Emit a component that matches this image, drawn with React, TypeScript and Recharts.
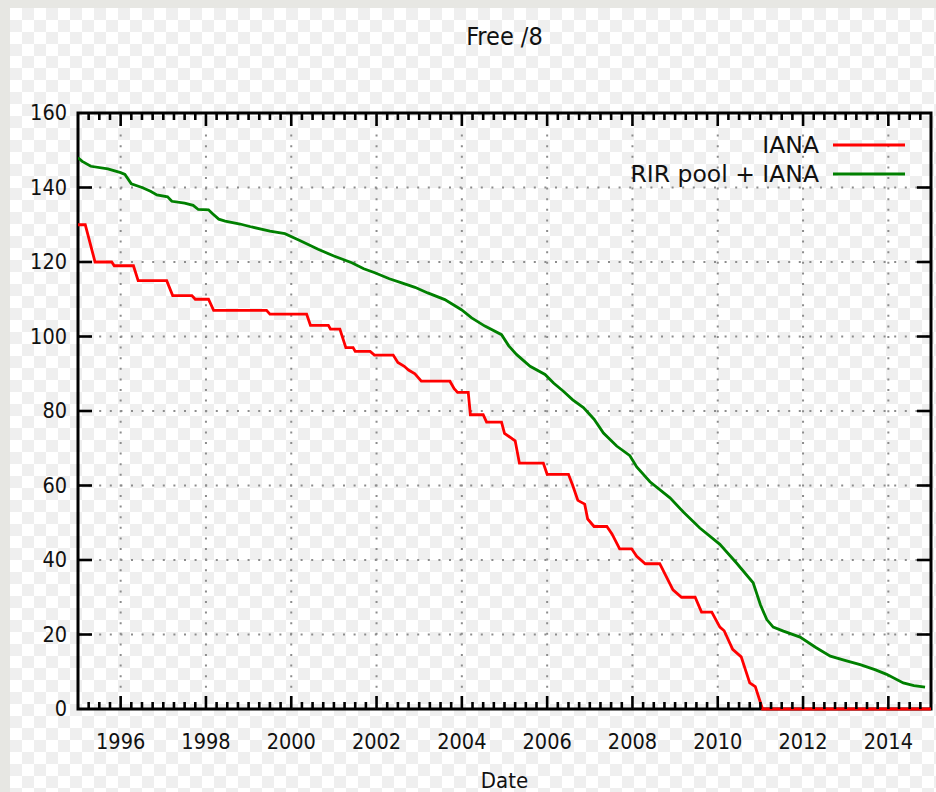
import React from 'react';
import {
  ComposedChart, Line, Scatter, XAxis, YAxis, CartesianGrid, ReferenceLine, ReferenceArea, Legend,
} from 'recharts';

// IANA free /8 blocks (step line)
const ianaYears = [
  1995.0, 1995.17, 1995.4, 1995.79, 1995.85, 1996.3, 1996.41, 1997.08, 1997.22, 1997.67,
  1997.75, 1998.06, 1998.18, 1999.42, 1999.5, 2000.36, 2000.45, 2000.87, 2000.92, 2001.14,
  2001.28, 2001.45, 2001.5, 2001.85, 2001.95, 2002.39, 2002.5, 2002.65, 2002.75, 2002.9,
  2003.05, 2003.72, 2003.82, 2003.9, 2004.15, 2004.2, 2004.5, 2004.58, 2004.93, 2005.0,
  2005.25, 2005.35, 2005.91, 2006.0, 2006.5, 2006.6, 2006.72, 2006.88, 2006.95, 2007.1,
  2007.4, 2007.52, 2007.7, 2007.98, 2008.1, 2008.3, 2008.64, 2008.95, 2009.15, 2009.47,
  2009.62, 2009.86, 2010.05, 2010.15, 2010.35, 2010.55, 2010.75, 2010.88, 2011.05, 2015.0,
];
const ianaFree = [
  130, 130, 120, 120, 119, 119, 115, 115, 111, 111,
  110, 110, 107, 107, 106, 106, 103, 103, 102, 102,
  97, 97, 96, 96, 95, 95, 93, 92, 91, 90,
  88, 88, 86, 85, 85, 79, 79, 77, 77, 74,
  72, 66, 66, 63, 63, 60, 56, 55, 51, 49,
  49, 47, 43, 43, 41, 39, 39, 32, 30, 30,
  26, 26, 22, 21, 16, 14, 7, 6, 0, 0,
];

// RIR pool + IANA
const rirYears = [
  1995.0, 1995.1, 1995.3, 1995.7, 1996.0, 1996.1, 1996.25, 1996.5, 1996.7, 1996.85,
  1997.1, 1997.2, 1997.5, 1997.7, 1997.82, 1998.06, 1998.15, 1998.3, 1998.45, 1998.8,
  1999.07, 1999.5, 1999.85, 2000.2, 2000.63, 2001.0, 2001.42, 2001.7, 2001.96, 2002.3,
  2002.59, 2002.9, 2003.2, 2003.6, 2003.99, 2004.23, 2004.54, 2004.93, 2005.1, 2005.28,
  2005.6, 2005.95, 2006.15, 2006.38, 2006.6, 2006.85, 2007.1, 2007.32, 2007.63, 2007.94,
  2008.1, 2008.41, 2008.88, 2009.2, 2009.58, 2010.05, 2010.44, 2010.83, 2011.0, 2011.15,
  2011.3, 2011.54, 2011.93, 2012.3, 2012.64, 2013.0, 2013.34, 2013.7, 2013.96, 2014.35,
  2014.6, 2014.86,
];
const rirFree = [
  148, 147, 145.7, 145, 144, 143.5, 141, 140, 139, 138,
  137.5, 136.3, 135.8, 135.2, 134.1, 134, 133, 131.5, 131, 130.2,
  129.4, 128.3, 127.6, 125.8, 123.4, 121.6, 119.8, 118.2, 117.1, 115.5,
  114.4, 113.2, 111.7, 109.9, 107.2, 105, 102.8, 100.5, 97.5, 95.2,
  92, 89.8, 87.5, 85.3, 83, 80.9, 77.8, 74.1, 70.6, 68,
  65, 61, 56.7, 52.8, 48.6, 44.2, 39.2, 33.9, 28, 24,
  22, 20.9, 19.3, 16.5, 14.2, 13, 11.9, 10.5, 9.3, 7,
  6.3, 5.9,
];

const yearTicks = [1996, 1998, 2000, 2002, 2004, 2006, 2008, 2010, 2012, 2014];
const minorYearTicks = Array.from({ length: 79 }, (_, i) => 1995.25 + i * 0.25).filter(
  (v) => !yearTicks.includes(v)
);
const valueTicks = [0, 20, 40, 60, 80, 100, 120, 140, 160];
const innerValueTicks = [20, 40, 60, 80, 100, 120, 140];

const X_MIN = 1995;
const X_MAX = 2015;
const Y_MIN = 0;
const Y_MAX = 160;

const ianaData = ianaYears.map((year, i) => ({ year, free: ianaFree[i] }));
const rirData = rirYears.map((year, i) => ({ year, free: rirFree[i] }));

// tick mark anchor points on the frame
const bottomMajor = yearTicks.map((year) => ({ year, free: Y_MIN }));
const topMajor = yearTicks.map((year) => ({ year, free: Y_MAX }));
const bottomMinor = minorYearTicks.map((year) => ({ year, free: Y_MIN }));
const topMinor = minorYearTicks.map((year) => ({ year, free: Y_MAX }));
const leftMarks = innerValueTicks.map((free) => ({ year: X_MIN, free }));
const rightMarks = innerValueTicks.map((free) => ({ year: X_MAX, free }));

const TICK_FONT = "'DejaVu Sans Condensed', 'Liberation Sans Narrow', 'DejaVu Sans', sans-serif";
const LEGEND_FONT = "'DejaVu Sans', sans-serif";
const gridStyle = { stroke: '#8c8c8c', strokeWidth: 2, strokeDasharray: '2 8.6' };

const mark = (dx: number, dy: number) => (p: any) => (
  <line x1={p.cx} y1={p.cy} x2={p.cx + dx} y2={p.cy + dy} stroke="#000" strokeWidth={2.6} />
);

const BottomLabel = ({ x, y, payload }: any) => (
  <text x={x} y={y + 40} textAnchor="middle" fontSize={21.5} fontFamily={TICK_FONT} fill="#111">
    {payload.value}
  </text>
);

const LeftLabel = ({ x, y, payload }: any) => (
  <text x={x - 11} y={y + 7} textAnchor="end" fontSize={21.5} fontFamily={TICK_FONT} fill="#111">
    {payload.value}
  </text>
);

const LegendBox = ({ payload }: any) => (
  <div style={{ fontFamily: LEGEND_FONT, fontSize: 23.5, color: '#111' }}>
    {(payload || [])
      .filter((p: any) => p.type !== 'none')
      .map((p: any) => (
        <div key={p.value} style={{ display: 'flex', justifyContent: 'flex-end', alignItems: 'center', height: 29 }}>
          <span>{p.value}</span>
          <svg width={72} height={10} style={{ marginLeft: 14 }}>
            <line x1={0} y1={5} x2={72} y2={5} stroke={p.color} strokeWidth={2.8} />
          </svg>
        </div>
      ))}
  </div>
);

export default function App() {
  return (
    <div
      style={{
        position: 'absolute', left: 0, top: 0, width: 936, height: 792, overflow: 'hidden',
        background: '#e7e7e3',
      }}
    >
      <div
        style={{
          position: 'absolute', left: 10, top: 8, width: 926, height: 784,
          backgroundColor: '#ffffff',
          backgroundImage: 'repeating-conic-gradient(#efefef 0% 25%, #ffffff 0% 50%)',
          backgroundSize: '24px 24px',
        }}
      />
      <div
        style={{
          position: 'absolute', left: 78, top: 22, width: 853, textAlign: 'center',
          fontFamily: TICK_FONT, fontSize: 25, color: '#111',
        }}
      >
        Free /8
      </div>
      <div style={{ position: 'absolute', left: 0, top: 0 }}>
        <ComposedChart width={936} height={792} margin={{ top: 113, right: 5, bottom: 0, left: 0 }}>
          <CartesianGrid vertical={false} horizontalValues={innerValueTicks} {...gridStyle} />
          {yearTicks.map((yr) => (
            <ReferenceLine key={`g${yr}`} x={yr} {...gridStyle} />
          ))}
          <XAxis
            dataKey="year"
            type="number"
            domain={[X_MIN, X_MAX]}
            allowDataOverflow
            ticks={yearTicks}
            interval={0}
            height={83}
            tickSize={0}
            tickMargin={0}
            tickLine={false}
            axisLine={false}
            tick={<BottomLabel />}
            label={{ value: 'Date', position: 'insideBottom', offset: 4, fontSize: 22, fontFamily: TICK_FONT, fill: '#111' }}
          />
          <YAxis
            type="number"
            domain={[Y_MIN, Y_MAX]}
            ticks={valueTicks}
            interval={0}
            width={78}
            tickSize={0}
            tickMargin={0}
            tickLine={false}
            axisLine={false}
            tick={<LeftLabel />}
          />
          <ReferenceArea
            x1={X_MIN}
            x2={X_MAX}
            y1={Y_MIN}
            y2={Y_MAX}
            fill="none"
            fillOpacity={0}
            stroke="#000"
            strokeWidth={3}
            ifOverflow="visible"
          />

          {/* inward tick marks on all four sides of the frame */}
          <Scatter data={bottomMajor} dataKey="free" shape={mark(0, -13)} legendType="none" isAnimationActive={false} />
          <Scatter data={topMajor} dataKey="free" shape={mark(0, 13)} legendType="none" isAnimationActive={false} />
          <Scatter data={bottomMinor} dataKey="free" shape={mark(0, -7)} legendType="none" isAnimationActive={false} />
          <Scatter data={topMinor} dataKey="free" shape={mark(0, 7)} legendType="none" isAnimationActive={false} />
          <Scatter data={leftMarks} dataKey="free" shape={mark(14, 0)} legendType="none" isAnimationActive={false} />
          <Scatter data={rightMarks} dataKey="free" shape={mark(-14, 0)} legendType="none" isAnimationActive={false} />

          <Line
            data={ianaData}
            dataKey="free"
            name="IANA"
            type="linear"
            stroke="#ff0000"
            strokeWidth={2.8}
            dot={false}
            isAnimationActive={false}
          />
          <Line
            data={rirData}
            dataKey="free"
            name="RIR pool + IANA"
            type="linear"
            stroke="#008000"
            strokeWidth={2.8}
            dot={false}
            isAnimationActive={false}
          />
          <Legend
            layout="vertical"
            align="center"
            verticalAlign="middle"
            content={<LegendBox />}
            wrapperStyle={{ top: 130, left: 600, width: 305 }}
          />
        </ComposedChart>
      </div>
    </div>
  );
}
